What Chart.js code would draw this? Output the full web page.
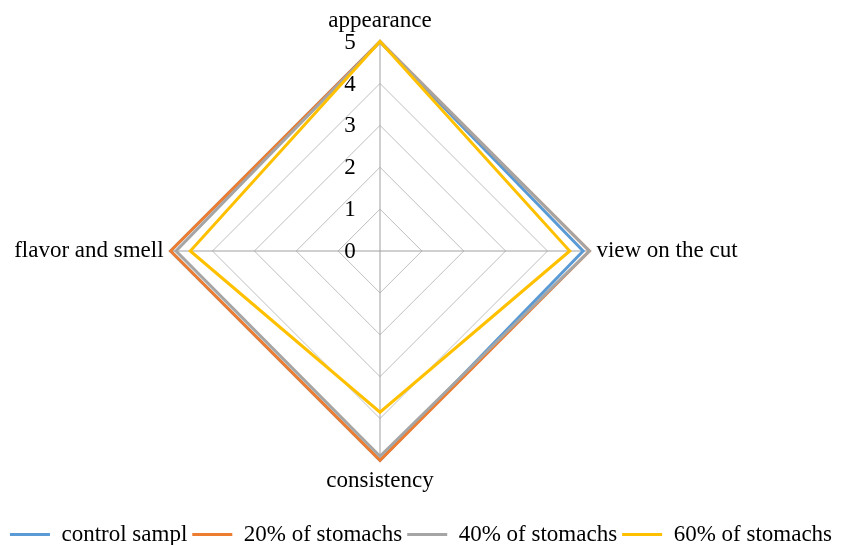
<!DOCTYPE html>
<html>
<head>
<meta charset="utf-8">
<script src="https://cdn.jsdelivr.net/npm/chart.js@4/dist/chart.umd.min.js"></script>
<style>
  html, body { margin: 0; padding: 0; background: #ffffff; }
  #wrap { width: 842px; height: 545px; position: relative; }
</style>
</head>
<body>
<div id="wrap"><canvas id="radar"></canvas></div>
<script>
// Sensory criteria (axes, clockwise from the top)
const criteria = ['appearance', 'view on the cut', 'consistency', 'flavor and smell'];

// Scores per sample, in the same order as the criteria
const controlSample = [5, 4.85, 5, 5];
const stomach20 = [5, 5, 5, 5];
const stomach40 = [5, 5, 4.9, 4.87];
const stomach60 = [5, 4.53, 3.85, 4.53];

const seriesNames = ['control sampl', '20% of stomachs', '40% of stomachs', '60% of stomachs'];
const seriesColors = ['#5B9BD5', '#ED7D31', '#A5A5A5', '#FFC000'];
const seriesValues = [controlSample, stomach20, stomach40, stomach60];

// Scale ticks 0..5
const scaleMin = 0;
const scaleMax = 5;
const scaleStep = 1;

const serif = "'Liberation Serif', 'Times New Roman', serif";

// Tick numbers sit just left of the vertical axis
const tickLabelPlugin = {
  id: 'tickLabels',
  beforeDatasetsDraw(chart) {
    const r = chart.scales.r;
    const ctx = chart.ctx;
    ctx.save();
    ctx.font = '23px ' + serif;
    ctx.fillStyle = '#000000';
    ctx.textAlign = 'center';
    ctx.textBaseline = 'middle';
    r.ticks.forEach(t => {
      const d = r.getDistanceFromCenterForValue(t.value);
      ctx.fillText(String(t.value), r.xCenter - 30, r.yCenter - d + 1);
    });
    ctx.restore();
  }
};

new Chart(document.getElementById('radar'), {
  type: 'radar',
  data: {
    labels: criteria,
    datasets: seriesValues.map((vals, i) => ({
      label: seriesNames[i],
      data: vals,
      borderColor: seriesColors[i],
      backgroundColor: seriesColors[i],
      borderWidth: 3,
      fill: false,
      pointRadius: 0,
      pointHoverRadius: 0,
      borderJoinStyle: 'miter',
      order: seriesValues.length - i
    }))
  },
  options: {
    responsive: true,
    maintainAspectRatio: false,
    animation: false,
    layout: { padding: { top: 7, right: 0, bottom: -11, left: 0 } },
    plugins: {
      tooltip: { enabled: false },
      legend: {
        position: 'bottom',
        // blank title only adds space above the legend row
        title: { display: true, text: ' ', color: '#000000', font: { size: 10 }, padding: { top: 10, bottom: 0 } },
        labels: {
          font: { family: serif, size: 23 },
          color: '#000000',
          boxWidth: 40,
          boxHeight: 3,
          padding: 5,
          sort: (a, b) => a.datasetIndex - b.datasetIndex,
          generateLabels(chart) {
            return chart.data.datasets.map((ds, i) => ({
              text: ds.label,
              fontColor: '#000000',
              fillStyle: ds.borderColor,
              strokeStyle: ds.borderColor,
              lineWidth: 0,
              hidden: false,
              datasetIndex: i
            }));
          }
        }
      }
    },
    scales: {
      r: {
        min: scaleMin,
        max: scaleMax,
        ticks: { stepSize: scaleStep, display: false },
        grid: { color: '#bfbfbf', lineWidth: 1 },
        angleLines: { color: '#a0a0a0', lineWidth: 1 },
        pointLabels: {
          font: { family: serif, size: 23 },
          color: '#000000',
          padding: 7
        },
        // shift the web left of the page centre, leaving room for the right-hand label
        afterSetDimensions(scale) {
          const area = scale.chart.chartArea;
          scale.left = area.left - 100;
          scale.xCenter = Math.floor(area.left + area.width / 2) - 41;
        }
      }
    }
  },
  plugins: [tickLabelPlugin]
});
</script>
</body>
</html>
